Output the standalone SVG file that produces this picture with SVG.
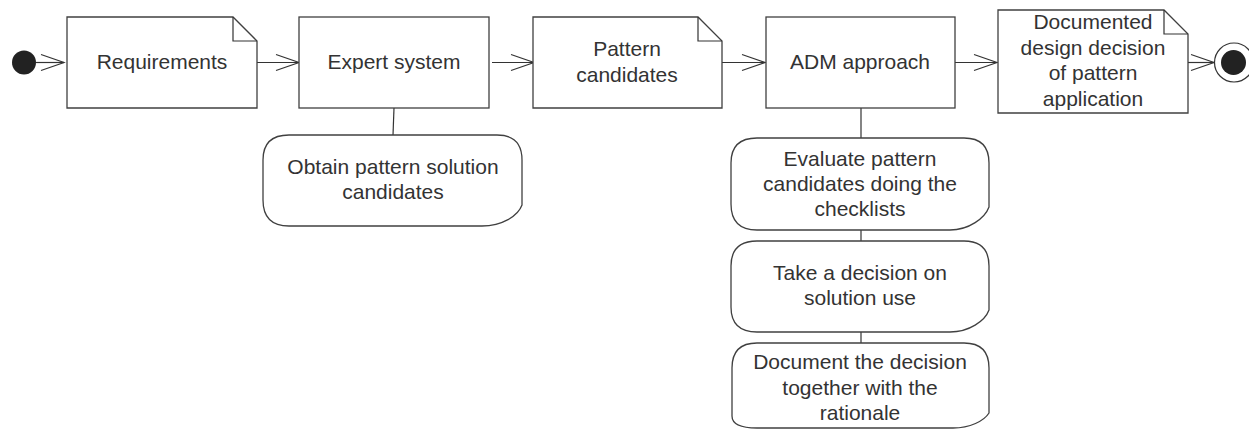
<svg xmlns="http://www.w3.org/2000/svg" width="1249" height="429" viewBox="0 0 1249 429">
<defs>
<style>
.shape{fill:#fff;stroke:#404040;stroke-width:1.3}
.line{fill:none;stroke:#333;stroke-width:1.2}
.t{font-family:"Liberation Sans",Arial,sans-serif;font-size:21px;fill:#333;text-anchor:middle}
</style>
<marker id="arr" markerUnits="userSpaceOnUse" markerWidth="30" markerHeight="20" viewBox="-25 -10 30 20" refX="0" refY="0" orient="auto">
<path d="M-23,-8 L0,0 L-23,8" fill="none" stroke="#333" stroke-width="1.2"/>
</marker>
</defs>
<rect width="1249" height="429" fill="#fff"/>
<g id="connectors">
<line class="line" x1="36" y1="62.5" x2="64" y2="62.5" marker-end="url(#arr)"/>
<line class="line" x1="257" y1="62.5" x2="299" y2="62.5" marker-end="url(#arr)"/>
<line class="line" x1="492" y1="62.5" x2="534" y2="62.5" marker-end="url(#arr)"/>
<line class="line" x1="722" y1="62.5" x2="765" y2="62.5" marker-end="url(#arr)"/>
<line class="line" x1="955" y1="62.5" x2="997" y2="62.5" marker-end="url(#arr)"/>
<line class="line" x1="1188" y1="62.5" x2="1214" y2="62.5" marker-end="url(#arr)"/>
<line class="line" x1="394" y1="108" x2="393" y2="135"/>
<line class="line" x1="861" y1="108" x2="861" y2="138"/>
<line class="line" x1="861" y1="230" x2="861" y2="241"/>
<line class="line" x1="861" y1="332" x2="861" y2="343"/>
</g>
<g id="start">
<circle cx="24" cy="62.5" r="12" fill="#222"/>
</g>
<g id="requirements">
<path class="shape" d="M67,17 H233 L257,41 V108 H67 Z"/>
<path class="line" d="M233,17 V41 H257"/>
<text class="t" x="162" y="69">Requirements</text>
</g>
<g id="expert">
<rect class="shape" x="299" y="17" width="190" height="91"/>
<text class="t" x="394" y="69">Expert system</text>
</g>
<g id="pattern">
<path class="shape" d="M533,17 H698 L722,41 V108 H533 Z"/>
<path class="line" d="M698,17 V41 H722"/>
<text class="t" x="627" y="56">Pattern</text>
<text class="t" x="627" y="81.5">candidates</text>
</g>
<g id="adm">
<rect class="shape" x="766" y="17" width="189" height="91"/>
<text class="t" x="860" y="69">ADM approach</text>
</g>
<g id="documented">
<path class="shape" d="M998,10 H1164 L1188,34 V113 H998 Z"/>
<path class="line" d="M1164,10 V34 H1188"/>
<text class="t" x="1093" y="29">Documented</text>
<text class="t" x="1093" y="54.5">design decision</text>
<text class="t" x="1093" y="80">of pattern</text>
<text class="t" x="1093" y="105.5">application</text>
</g>
<g id="final">
<circle cx="1234" cy="62.5" r="19.5" fill="#fff" stroke="#333" stroke-width="1.2"/>
<circle cx="1233.5" cy="62.5" r="12.5" fill="#222"/>
</g>
<g id="obtain">
<path class="shape" d="M289,135 H497 Q522,135 522,160 V205 C518,216 502,226 482,226 H289 Q263,226 263,200 V160 Q263,135 289,135 Z"/>
<text class="t" x="393" y="174">Obtain pattern solution</text>
<text class="t" x="393" y="199">candidates</text>
</g>
<g id="evaluate">
<path class="shape" d="M757,138 H964 Q989,138 989,163 V207 C985,218 969,230 950,230 H757 Q731,230 731,204 V163 Q731,138 757,138 Z"/>
<text class="t" x="860" y="165.5">Evaluate pattern</text>
<text class="t" x="860" y="190.5">candidates doing the</text>
<text class="t" x="860" y="215.5">checklists</text>
</g>
<g id="take">
<path class="shape" d="M757,241 H964 Q989,241 989,266 V310 C985,321 969,332 950,332 H757 Q731,332 731,307 V266 Q731,241 757,241 Z"/>
<text class="t" x="860" y="280">Take a decision on</text>
<text class="t" x="860" y="305">solution use</text>
</g>
<g id="document">
<path class="shape" d="M757,343 H964 Q989,343 989,368 V413 C984,421 970,428 953,428 H757 Q732,428 732,416 V368 Q732,343 757,343 Z"/>
<text class="t" x="860" y="369">Document the decision</text>
<text class="t" x="860" y="395">together with the</text>
<text class="t" x="860" y="420">rationale</text>
</g>
</svg>
